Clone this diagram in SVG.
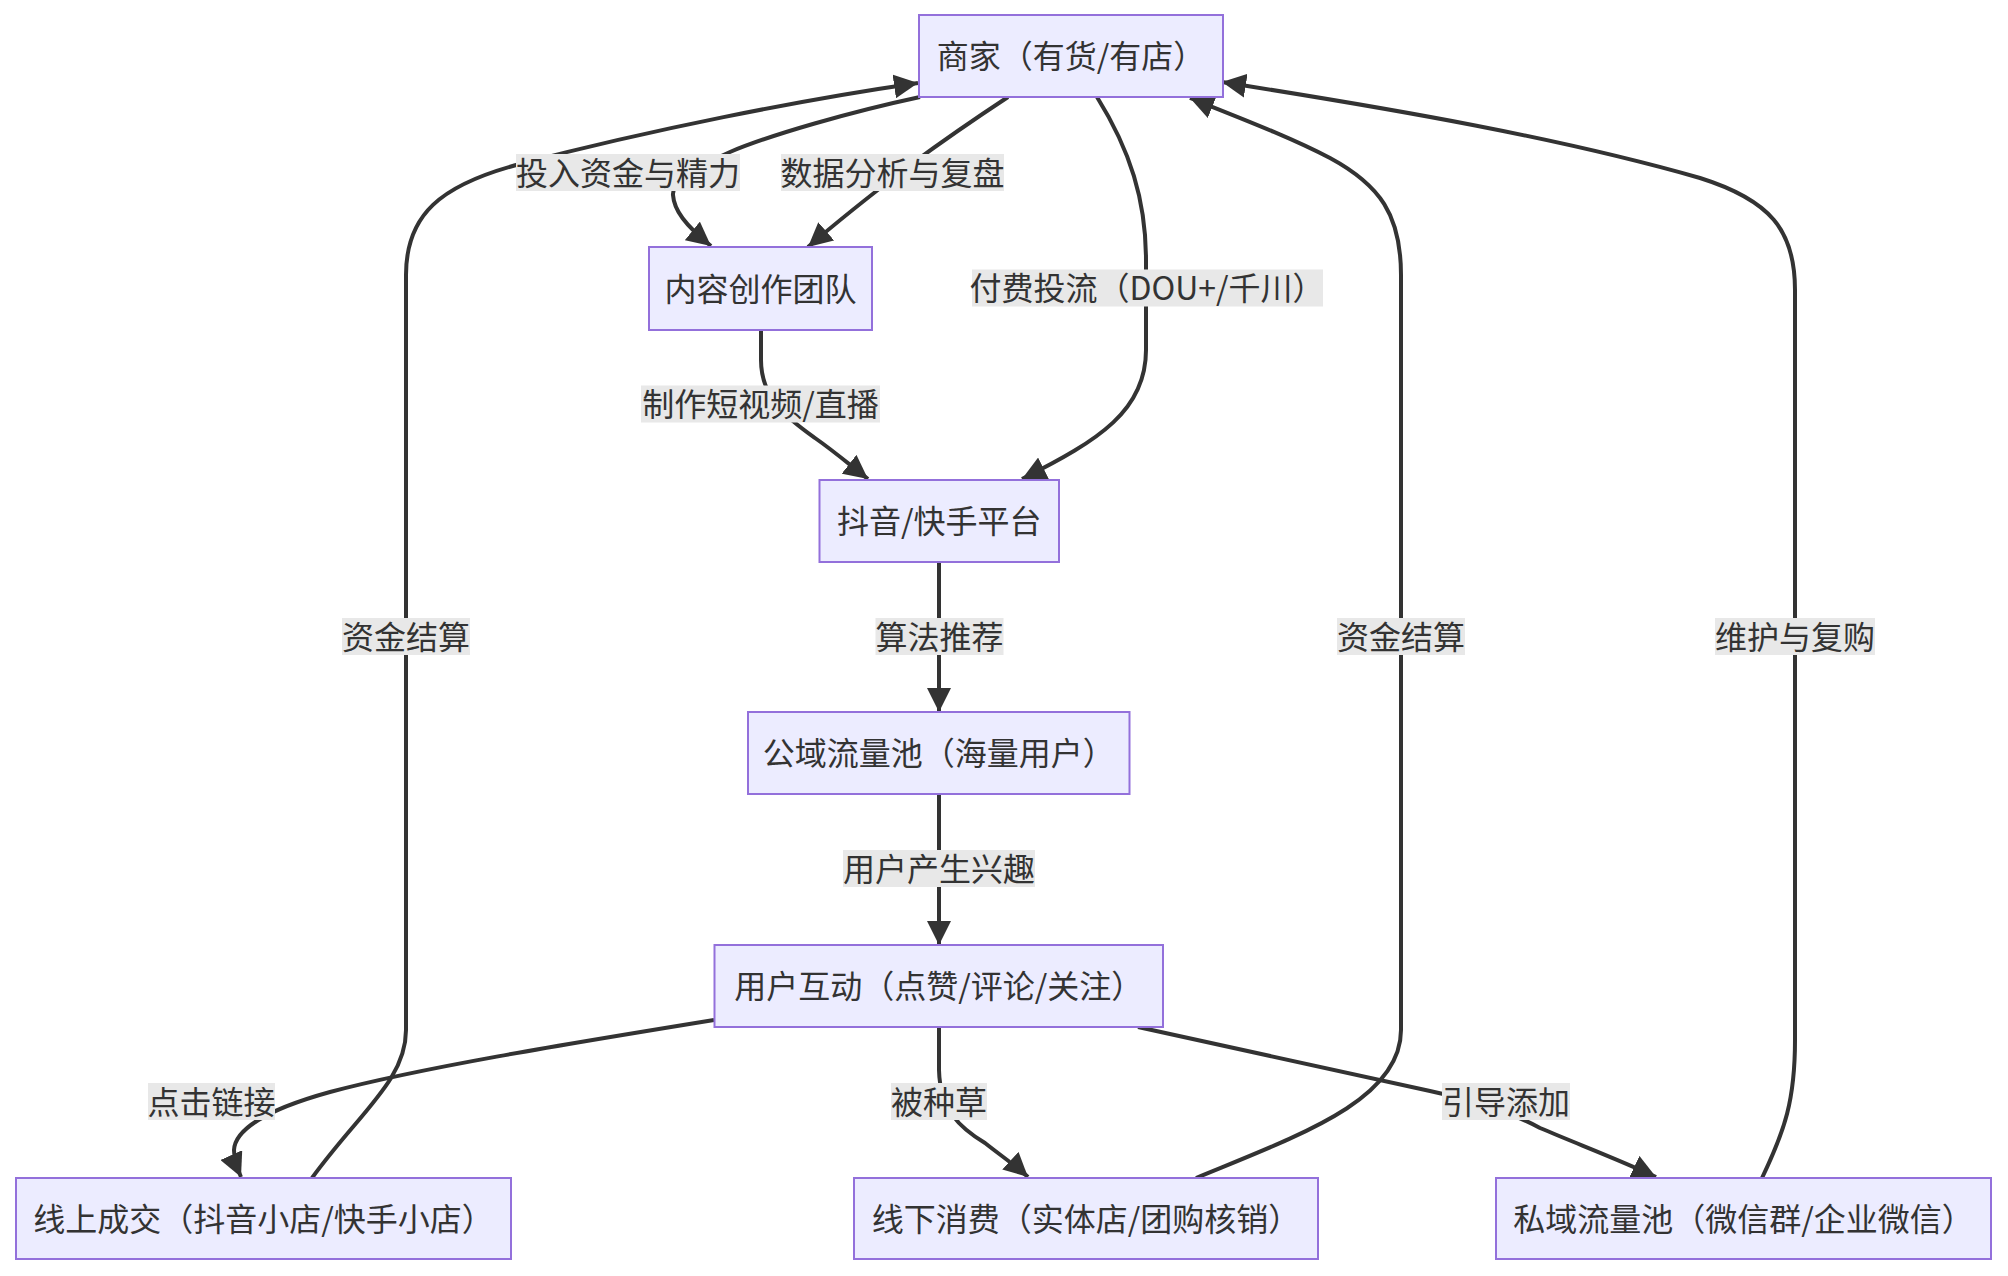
<svg xmlns="http://www.w3.org/2000/svg" width="2008" height="1276" viewBox="0 0 2008 1276">
<style>
.node rect{fill:#ECECFF;stroke:#9370DB;stroke-width:2}
text{font-family:"Noto Sans CJK SC","Noto Sans",sans-serif;font-size:32px;fill:#333;text-anchor:middle}
.edge{fill:none;stroke:#333;stroke-width:4;marker-end:url(#arrow)}
.lbl rect{fill:#e8e8e8}
</style>
<defs>
<marker id="arrow" viewBox="0 0 10 10" refX="10" refY="5" markerUnits="userSpaceOnUse" markerWidth="24" markerHeight="24" orient="auto">
<path d="M0,0 L10,5 L0,10 z" fill="#333"/>
</marker>
</defs>
<rect width="2008" height="1276" fill="#fff"/>
<g id="connectors">
<path class="edge" d="M920,97 C850,112 770,135 730,152 C690,170 672,182 673,195 C674,210 685,225 711,246"/>
<path class="edge" d="M1008,97 C970,122 940,143 910,165 C880,188 845,215 808,247"/>
<path class="edge" d="M1097,97 C1130,150 1146,200 1146,260 L1146,350 C1146,410 1100,440 1022,479"/>
<path class="edge" d="M761,330 L761,360 C761,400 790,420 815,438 C835,452 850,465 868,479"/>
<path class="edge" d="M939,562 L939,712"/>
<path class="edge" d="M939,794 L939,945"/>
<path class="edge" d="M714,1020 C560,1045 420,1068 330,1092 C265,1110 235,1130 234,1150 C234,1160 237,1168 241,1177"/>
<path class="edge" d="M939,1027 L939,1070 C940,1110 960,1128 985,1143 C1000,1155 1015,1165 1028,1177"/>
<path class="edge" d="M1138,1027 L1430,1091 C1480,1102 1510,1112 1540,1128 C1580,1145 1620,1160 1656,1177"/>
<path class="edge" d="M312,1178 C360,1112 406,1080 406,1030 L406,275 C406,215 440,185 520,164 C650,130 800,100 918,83"/>
<path class="edge" d="M1196,1178 C1300,1135 1401,1100 1401,1030 L1401,275 C1401,215 1380,185 1330,158 C1290,137 1240,118 1190,98"/>
<path class="edge" d="M1762,1178 C1785,1130 1795,1100 1795,1040 L1795,290 C1795,230 1770,200 1700,178 C1560,138 1400,110 1222,82"/>
</g>
<g id="edge-labels">
<g class="lbl"><rect x="516" y="154" width="224" height="37"/><text x="628" y="184.5">投入资金与精力</text></g>
<g class="lbl"><rect x="781" y="154" width="223" height="37"/><text x="892.5" y="184.5">数据分析与复盘</text></g>
<g class="lbl"><rect x="972" y="269.5" width="351" height="37"/><text x="1147" y="300">付费投流（DOU+/千川）</text></g>
<g class="lbl"><rect x="641" y="385.5" width="239" height="37"/><text x="760.5" y="416">制作短视频/直播</text></g>
<g class="lbl"><rect x="875.5" y="618" width="128" height="37"/><text x="939.5" y="648.5">算法推荐</text></g>
<g class="lbl"><rect x="843" y="850" width="192" height="37"/><text x="939" y="880.5">用户产生兴趣</text></g>
<g class="lbl"><rect x="148" y="1083" width="127" height="37"/><text x="211.5" y="1113.5">点击链接</text></g>
<g class="lbl"><rect x="891" y="1083" width="96" height="37"/><text x="939" y="1113.5">被种草</text></g>
<g class="lbl"><rect x="1442" y="1083" width="128" height="37"/><text x="1506" y="1113.5">引导添加</text></g>
<g class="lbl"><rect x="342" y="618" width="128" height="37"/><text x="406" y="648.5">资金结算</text></g>
<g class="lbl"><rect x="1337" y="618" width="128" height="37"/><text x="1401" y="648.5">资金结算</text></g>
<g class="lbl"><rect x="1715" y="618" width="160" height="37"/><text x="1795" y="648.5">维护与复购</text></g>
</g>
<g id="node-merchant" class="node"><rect x="919" y="15" width="304" height="82"/><text x="1071" y="68">商家（有货/有店）</text></g>
<g id="node-content" class="node"><rect x="649" y="247" width="223" height="83"/><text x="760.5" y="300.5">内容创作团队</text></g>
<g id="node-platform" class="node"><rect x="819.5" y="480" width="239.5" height="82"/><text x="939.25" y="533">抖音/快手平台</text></g>
<g id="node-public" class="node"><rect x="748" y="712" width="381.5" height="82"/><text x="938.75" y="765">公域流量池（海量用户）</text></g>
<g id="node-interact" class="node"><rect x="714.5" y="945" width="448.5" height="82"/><text x="938.75" y="998">用户互动（点赞/评论/关注）</text></g>
<g id="node-online" class="node"><rect x="16" y="1178" width="495" height="81"/><text x="263.5" y="1230.5">线上成交（抖音小店/快手小店）</text></g>
<g id="node-offline" class="node"><rect x="854" y="1178" width="464" height="81"/><text x="1086" y="1230.5">线下消费（实体店/团购核销）</text></g>
<g id="node-private" class="node"><rect x="1496" y="1178" width="495" height="81"/><text x="1743.5" y="1230.5">私域流量池（微信群/企业微信）</text></g>
</svg>
